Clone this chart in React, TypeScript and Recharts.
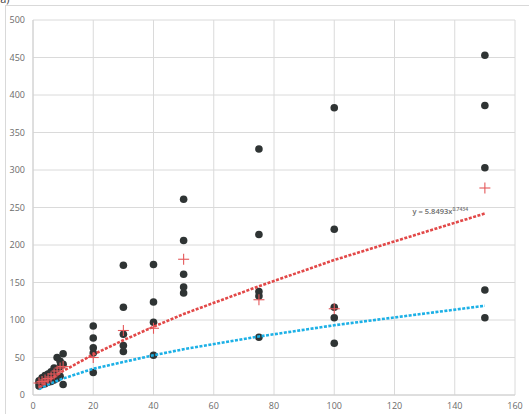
import { CartesianGrid, ReferenceDot, Scatter, ScatterChart, XAxis, YAxis } from 'recharts'

// observed points (x = dose level, y = response)
const pointX = [
  2, 2, 2, 3, 3, 3, 4, 4, 4, 5, 5, 5, 6, 6, 6, 7, 7, 7, 8, 8, 8, 9, 9, 9, 10, 10, 10,
  20, 20, 20, 20, 20, 30, 30, 30, 30, 30, 40, 40, 40, 40, 50, 50, 50, 50, 50,
  75, 75, 75, 75, 75, 100, 100, 100, 100, 100, 150, 150, 150, 150, 150,
]
const pointY = [
  12, 16, 19, 14, 18, 23, 15, 21, 26, 17, 23, 28, 18, 25, 31, 20, 28, 36, 22, 35, 50, 25, 38, 45, 14, 41, 55,
  92, 76, 63, 56, 30, 173, 117, 81, 66, 58, 174, 124, 97, 53, 261, 206, 161, 144, 136,
  328, 214, 138, 132, 77, 383, 221, 117, 103, 69, 453, 386, 303, 140, 103,
]

// group means (red crosses)
const meanX = [2, 3, 4, 5, 6, 7, 8, 9, 10, 20, 30, 40, 50, 75, 100, 150]
const meanY = [16, 18, 20, 22, 24, 28, 32, 36, 38, 50, 86, 89, 181, 127, 115, 276]

// trend lines
const trendX = [2, 5, 10, 20, 30, 40, 50, 75, 100, 125, 150]
const redTrend = [10, 19, 32, 54, 73, 91, 108, 145, 180, 211, 242]
const blueTrend = [8, 14, 22, 35, 44, 53, 61, 78, 93, 106, 119]

const xTicks = [0, 20, 40, 60, 80, 100, 120, 140, 160]
const yTicks = [0, 50, 100, 150, 200, 250, 300, 350, 400, 450, 500]

const points = pointX.map((x, i) => ({ x, y: pointY[i] }))
const means = meanX.map((x, i) => ({ x, y: meanY[i] }))
const red = trendX.map((x, i) => ({ x, y: redTrend[i] }))
const blue = trendX.map((x, i) => ({ x, y: blueTrend[i] }))

const tick = { fill: '#6b6b6b', fontSize: 9, fontFamily: 'Open Sans' }

function Dot({ cx, cy }: { cx?: number; cy?: number }) {
  return <circle cx={cx} cy={cy} r={3.8} fill="#2f3434" />
}

function Cross({ cx = 0, cy = 0 }: { cx?: number; cy?: number }) {
  const s = 5.5
  return (
    <g stroke="#e4585a" strokeWidth={1.1}>
      <line x1={cx - s} y1={cy} x2={cx + s} y2={cy} />
      <line x1={cx} y1={cy - s} x2={cx} y2={cy + s} />
    </g>
  )
}

const NoShape = () => <g />

function Equation({ cx = 0, cy = 0 }: { cx?: number; cy?: number }) {
  return (
    <text x={cx} y={cy} fill="#6b6b6b" fontSize={7.5} fontFamily="Open Sans" fontWeight={600}>
      y = 5.8493x
      <tspan dy={-3} fontSize={5}>0.7434</tspan>
    </text>
  )
}

export default function App() {
  return (
    <div style={{ position: 'relative', width: 529, height: 414, overflow: 'hidden', background: '#fff' }}>
      <style>{'body{margin:0}'}</style>
      <div
        style={{
          position: 'absolute',
          left: -3,
          top: -9,
          fontFamily: 'Open Sans',
          fontSize: 11,
          color: '#444',
        }}
      >
        (a)
      </div>
      <div
        style={{
          position: 'absolute',
          left: 5,
          top: 5,
          width: 540,
          height: 440,
          border: '1px solid #d9d9d9',
        }}
      />
      <div style={{ position: 'absolute', left: 0, top: 0 }}>
        <ScatterChart width={529} height={414} margin={{ top: 20, right: 14, bottom: 0, left: 0 }}>
          <CartesianGrid stroke="#dadada" />
          <XAxis
            type="number"
            dataKey="x"
            domain={[0, 160]}
            ticks={xTicks}
            tick={tick}
            tickLine={false}
            axisLine={{ stroke: '#d0d0d0' }}
            height={19}
          />
          <YAxis
            type="number"
            dataKey="y"
            domain={[0, 500]}
            ticks={yTicks}
            tick={tick}
            tickLine={false}
            axisLine={{ stroke: '#d0d0d0' }}
            width={33}
          />
          <Scatter data={points} shape={<Dot />} isAnimationActive={false} />
          <Scatter
            data={blue}
            line={{ stroke: '#1cb0e6', strokeWidth: 2.6, strokeDasharray: '3 1.5' }}
            shape={NoShape}
            isAnimationActive={false}
          />
          <Scatter
            data={red}
            line={{ stroke: '#e24848', strokeWidth: 2.6, strokeDasharray: '3 1.5' }}
            shape={NoShape}
            isAnimationActive={false}
          />
          <Scatter data={means} shape={<Cross />} isAnimationActive={false} />
          <ReferenceDot x={126} y={241} r={0} shape={<Equation />} />
        </ScatterChart>
      </div>
    </div>
  )
}
